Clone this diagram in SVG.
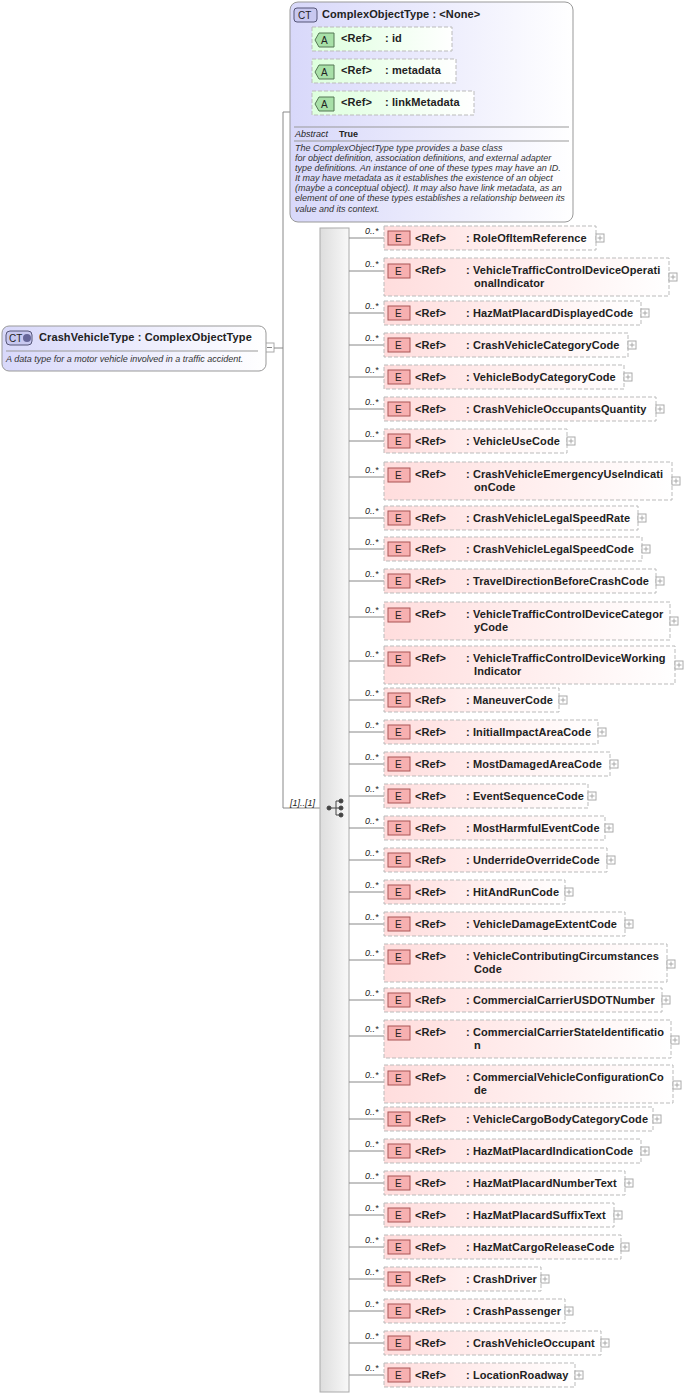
<svg xmlns="http://www.w3.org/2000/svg" width="685" height="1398" viewBox="0 0 685 1398">
<style>
text{font-family:"Liberation Sans",Arial,sans-serif;font-size:11px;fill:#222}
.b{font-weight:bold;letter-spacing:0.1px}
.s{font-size:10px;font-weight:normal}
.t{font-size:9px;font-weight:bold}
.i{font-style:italic;font-size:9px;fill:#333}
.m{font-style:italic;font-size:9px;fill:#222}
.el{fill:url(#ge);stroke:#bbb;stroke-dasharray:4,2}
.eb{fill:#f7b0b0;stroke:#a55}
.ln{stroke:#888;fill:none}
.px{fill:#fff;stroke:#aaa}
.at{fill:url(#ga);stroke:#bbb;stroke-dasharray:4,2}
</style>
<defs>
<linearGradient id="ge" x1="0" y1="0" x2="1" y2="0"><stop offset="0" stop-color="#fdd"/><stop offset="1" stop-color="#fff"/></linearGradient>
<linearGradient id="ga" x1="0" y1="0" x2="1" y2="0"><stop offset="0" stop-color="#dfd"/><stop offset="1" stop-color="#fff"/></linearGradient>
<linearGradient id="gc" x1="0" y1="0" x2="1" y2="0"><stop offset="0" stop-color="#d8d8fa"/><stop offset="1" stop-color="#fff"/></linearGradient>
<linearGradient id="gs" x1="0" y1="0" x2="1" y2="0"><stop offset="0" stop-color="#ddd"/><stop offset="1" stop-color="#f8f8f8"/></linearGradient>
</defs>
<g id="connectors">
<rect x="265" y="343" width="9" height="9" class="px"/><line x1="267" y1="347.5" x2="272" y2="347.5" stroke="#888"/>
<path class="ln" d="M274 348H283M283 112V808M283 112H300M300 40V112M300 40H314M300 71H314M300 103H314M283 808H320"/>
<text x="290" y="806" class="m">[1]..[1]</text>
</g>
<g id="CrashVehicleType">
<rect x="2" y="326" width="264" height="45" rx="7" fill="url(#gc)" stroke="#999"/>
<rect x="6" y="331" width="26" height="14" rx="4" fill="#c8c8f0" stroke="#557"/>
<text x="9" y="342" class="s">CT</text><circle cx="27" cy="338" r="4" fill="#669"/>
<text x="39" y="341" class="b">CrashVehicleType : ComplexObjectType</text>
<line x1="6" y1="351" x2="258" y2="351" stroke="#999"/>
<text x="6" y="362" class="i">A data type for a motor vehicle involved in a traffic accident.</text>
</g>
<g id="ComplexObjectType">
<rect x="290" y="2" width="283" height="220" rx="8" fill="url(#gc)" stroke="#999"/>
<rect x="294" y="8" width="23" height="14" rx="3" fill="#c8c8f0" stroke="#557"/>
<text x="298" y="19" class="s">CT</text>
<text x="322" y="18" class="b">ComplexObjectType : &lt;None&gt;</text>
<g><rect x="312" y="27" width="140" height="24" class="at"/><path d="M319 33h15v14h-15l-4 -7z" fill="#a8e0a8" stroke="#575"/><text x="321" y="44" class="s">A</text><text x="341" y="42" class="b">&lt;Ref&gt;</text><text x="385" y="42" class="b">: id</text></g>
<g><rect x="312" y="59" width="144" height="24" class="at"/><path d="M319 65h15v14h-15l-4 -7z" fill="#a8e0a8" stroke="#575"/><text x="321" y="76" class="s">A</text><text x="341" y="74" class="b">&lt;Ref&gt;</text><text x="385" y="74" class="b">: metadata</text></g>
<g><rect x="312" y="91" width="162" height="24" class="at"/><path d="M319 97h15v14h-15l-4 -7z" fill="#a8e0a8" stroke="#575"/><text x="321" y="108" class="s">A</text><text x="341" y="106" class="b">&lt;Ref&gt;</text><text x="385" y="106" class="b">: linkMetadata</text></g>
<line x1="294" y1="127" x2="569" y2="127" stroke="#999"/>
<text x="295" y="137" class="m">Abstract</text><text x="339" y="137" class="t">True</text>
<line x1="294" y1="141" x2="569" y2="141" stroke="#999"/>
<text class="i"><tspan x="295" y="151">The ComplexObjectType type provides a base class</tspan><tspan x="295" y="161">for object definition, association definitions, and external adapter</tspan><tspan x="295" y="171">type definitions. An instance of one of these types may have an ID.</tspan><tspan x="295" y="181">It may have metadata as it establishes the existence of an object</tspan><tspan x="295" y="191">(maybe a conceptual object). It may also have link metadata, as an</tspan><tspan x="295" y="201">element of one of these types establishes a relationship between its</tspan><tspan x="295" y="212">value and its context.</tspan></text>
</g>
<g id="sequence">
<rect x="320" y="228" width="29" height="1164" fill="url(#gs)" stroke="#aaa"/>
<g fill="#444" stroke="#444"><circle cx="329" cy="808" r="2"/><line x1="331" y1="808" x2="336" y2="808"/><path d="M336 801V815M336 801H340M336 808H340M336 815H340" fill="none"/><circle cx="341" cy="801" r="2"/><circle cx="341" cy="808" r="2"/><circle cx="341" cy="815" r="2"/></g>
</g>
<g id="elements">
<g id="e1"><line x1="349" y1="238" x2="384" y2="238" class="ln"/><text x="365" y="234" class="m">0..*</text><rect x="384" y="226" width="212" height="24" class="el"/><rect x="388" y="231" width="22" height="14" class="eb"/><text x="395" y="242" class="s">E</text><text x="415" y="242" class="b">&lt;Ref&gt;</text><text x="466" y="242" class="b">: RoleOfItemReference</text><rect x="596" y="234" width="8" height="8" class="px"/><path d="M600 235.5v5M597.5 238h5" stroke="#aaa"/></g>
<g id="e2"><line x1="349" y1="271" x2="384" y2="271" class="ln"/><text x="365" y="267" class="m">0..*</text><rect x="384" y="258" width="285" height="38" class="el"/><rect x="388" y="264" width="22" height="14" class="eb"/><text x="395" y="275" class="s">E</text><text x="415" y="274" class="b">&lt;Ref&gt;</text><text x="466" y="274" class="b">: VehicleTrafficControlDeviceOperati</text><text x="474" y="287" class="b">onalIndicator</text><rect x="669" y="273" width="8" height="8" class="px"/><path d="M673 274.5v5M670.5 277h5" stroke="#aaa"/></g>
<g id="e3"><line x1="349" y1="313" x2="384" y2="313" class="ln"/><text x="365" y="309" class="m">0..*</text><rect x="384" y="301" width="257" height="24" class="el"/><rect x="388" y="306" width="22" height="14" class="eb"/><text x="395" y="317" class="s">E</text><text x="415" y="317" class="b">&lt;Ref&gt;</text><text x="466" y="317" class="b">: HazMatPlacardDisplayedCode</text><rect x="641" y="309" width="8" height="8" class="px"/><path d="M645 310.5v5M642.5 313h5" stroke="#aaa"/></g>
<g id="e4"><line x1="349" y1="345" x2="384" y2="345" class="ln"/><text x="365" y="341" class="m">0..*</text><rect x="384" y="333" width="244" height="24" class="el"/><rect x="388" y="338" width="22" height="14" class="eb"/><text x="395" y="349" class="s">E</text><text x="415" y="349" class="b">&lt;Ref&gt;</text><text x="466" y="349" class="b">: CrashVehicleCategoryCode</text><rect x="628" y="341" width="8" height="8" class="px"/><path d="M632 342.5v5M629.5 345h5" stroke="#aaa"/></g>
<g id="e5"><line x1="349" y1="377" x2="384" y2="377" class="ln"/><text x="365" y="373" class="m">0..*</text><rect x="384" y="365" width="240" height="24" class="el"/><rect x="388" y="370" width="22" height="14" class="eb"/><text x="395" y="381" class="s">E</text><text x="415" y="381" class="b">&lt;Ref&gt;</text><text x="466" y="381" class="b">: VehicleBodyCategoryCode</text><rect x="624" y="373" width="8" height="8" class="px"/><path d="M628 374.5v5M625.5 377h5" stroke="#aaa"/></g>
<g id="e6"><line x1="349" y1="409" x2="384" y2="409" class="ln"/><text x="365" y="405" class="m">0..*</text><rect x="384" y="397" width="272" height="24" class="el"/><rect x="388" y="402" width="22" height="14" class="eb"/><text x="395" y="413" class="s">E</text><text x="415" y="413" class="b">&lt;Ref&gt;</text><text x="466" y="413" class="b">: CrashVehicleOccupantsQuantity</text><rect x="656" y="405" width="8" height="8" class="px"/><path d="M660 406.5v5M657.5 409h5" stroke="#aaa"/></g>
<g id="e7"><line x1="349" y1="441" x2="384" y2="441" class="ln"/><text x="365" y="437" class="m">0..*</text><rect x="384" y="429" width="183" height="24" class="el"/><rect x="388" y="434" width="22" height="14" class="eb"/><text x="395" y="445" class="s">E</text><text x="415" y="445" class="b">&lt;Ref&gt;</text><text x="466" y="445" class="b">: VehicleUseCode</text><rect x="567" y="437" width="8" height="8" class="px"/><path d="M571 438.5v5M568.5 441h5" stroke="#aaa"/></g>
<g id="e8"><line x1="349" y1="477" x2="384" y2="477" class="ln"/><text x="365" y="473" class="m">0..*</text><rect x="384" y="462" width="288" height="38" class="el"/><rect x="388" y="468" width="22" height="14" class="eb"/><text x="395" y="479" class="s">E</text><text x="415" y="478" class="b">&lt;Ref&gt;</text><text x="466" y="478" class="b">: CrashVehicleEmergencyUseIndicati</text><text x="474" y="491" class="b">onCode</text><rect x="672" y="477" width="8" height="8" class="px"/><path d="M676 478.5v5M673.5 481h5" stroke="#aaa"/></g>
<g id="e9"><line x1="349" y1="518" x2="384" y2="518" class="ln"/><text x="365" y="514" class="m">0..*</text><rect x="384" y="506" width="254" height="24" class="el"/><rect x="388" y="511" width="22" height="14" class="eb"/><text x="395" y="522" class="s">E</text><text x="415" y="522" class="b">&lt;Ref&gt;</text><text x="466" y="522" class="b">: CrashVehicleLegalSpeedRate</text><rect x="638" y="514" width="8" height="8" class="px"/><path d="M642 515.5v5M639.5 518h5" stroke="#aaa"/></g>
<g id="e10"><line x1="349" y1="549" x2="384" y2="549" class="ln"/><text x="365" y="545" class="m">0..*</text><rect x="384" y="537" width="258" height="24" class="el"/><rect x="388" y="542" width="22" height="14" class="eb"/><text x="395" y="553" class="s">E</text><text x="415" y="553" class="b">&lt;Ref&gt;</text><text x="466" y="553" class="b">: CrashVehicleLegalSpeedCode</text><rect x="642" y="545" width="8" height="8" class="px"/><path d="M646 546.5v5M643.5 549h5" stroke="#aaa"/></g>
<g id="e11"><line x1="349" y1="581" x2="384" y2="581" class="ln"/><text x="365" y="577" class="m">0..*</text><rect x="384" y="569" width="272" height="24" class="el"/><rect x="388" y="574" width="22" height="14" class="eb"/><text x="395" y="585" class="s">E</text><text x="415" y="585" class="b">&lt;Ref&gt;</text><text x="466" y="585" class="b">: TravelDirectionBeforeCrashCode</text><rect x="656" y="577" width="8" height="8" class="px"/><path d="M660 578.5v5M657.5 581h5" stroke="#aaa"/></g>
<g id="e12"><line x1="349" y1="617" x2="384" y2="617" class="ln"/><text x="365" y="613" class="m">0..*</text><rect x="384" y="602" width="286" height="38" class="el"/><rect x="388" y="608" width="22" height="14" class="eb"/><text x="395" y="619" class="s">E</text><text x="415" y="618" class="b">&lt;Ref&gt;</text><text x="466" y="618" class="b">: VehicleTrafficControlDeviceCategor</text><text x="474" y="631" class="b">yCode</text><rect x="670" y="617" width="8" height="8" class="px"/><path d="M674 618.5v5M671.5 621h5" stroke="#aaa"/></g>
<g id="e13"><line x1="349" y1="661" x2="384" y2="661" class="ln"/><text x="365" y="657" class="m">0..*</text><rect x="384" y="646" width="291" height="38" class="el"/><rect x="388" y="652" width="22" height="14" class="eb"/><text x="395" y="663" class="s">E</text><text x="415" y="662" class="b">&lt;Ref&gt;</text><text x="466" y="662" class="b">: VehicleTrafficControlDeviceWorking</text><text x="474" y="675" class="b">Indicator</text><rect x="675" y="661" width="8" height="8" class="px"/><path d="M679 662.5v5M676.5 665h5" stroke="#aaa"/></g>
<g id="e14"><line x1="349" y1="700" x2="384" y2="700" class="ln"/><text x="365" y="696" class="m">0..*</text><rect x="384" y="688" width="175" height="24" class="el"/><rect x="388" y="693" width="22" height="14" class="eb"/><text x="395" y="704" class="s">E</text><text x="415" y="704" class="b">&lt;Ref&gt;</text><text x="466" y="704" class="b">: ManeuverCode</text><rect x="559" y="696" width="8" height="8" class="px"/><path d="M563 697.5v5M560.5 700h5" stroke="#aaa"/></g>
<g id="e15"><line x1="349" y1="732" x2="384" y2="732" class="ln"/><text x="365" y="728" class="m">0..*</text><rect x="384" y="720" width="214" height="24" class="el"/><rect x="388" y="725" width="22" height="14" class="eb"/><text x="395" y="736" class="s">E</text><text x="415" y="736" class="b">&lt;Ref&gt;</text><text x="466" y="736" class="b">: InitialImpactAreaCode</text><rect x="598" y="728" width="8" height="8" class="px"/><path d="M602 729.5v5M599.5 732h5" stroke="#aaa"/></g>
<g id="e16"><line x1="349" y1="764" x2="384" y2="764" class="ln"/><text x="365" y="760" class="m">0..*</text><rect x="384" y="752" width="226" height="24" class="el"/><rect x="388" y="757" width="22" height="14" class="eb"/><text x="395" y="768" class="s">E</text><text x="415" y="768" class="b">&lt;Ref&gt;</text><text x="466" y="768" class="b">: MostDamagedAreaCode</text><rect x="610" y="760" width="8" height="8" class="px"/><path d="M614 761.5v5M611.5 764h5" stroke="#aaa"/></g>
<g id="e17"><line x1="349" y1="796" x2="384" y2="796" class="ln"/><text x="365" y="792" class="m">0..*</text><rect x="384" y="784" width="204" height="24" class="el"/><rect x="388" y="789" width="22" height="14" class="eb"/><text x="395" y="800" class="s">E</text><text x="415" y="800" class="b">&lt;Ref&gt;</text><text x="466" y="800" class="b">: EventSequenceCode</text><rect x="588" y="792" width="8" height="8" class="px"/><path d="M592 793.5v5M589.5 796h5" stroke="#aaa"/></g>
<g id="e18"><line x1="349" y1="828" x2="384" y2="828" class="ln"/><text x="365" y="824" class="m">0..*</text><rect x="384" y="816" width="221" height="24" class="el"/><rect x="388" y="821" width="22" height="14" class="eb"/><text x="395" y="832" class="s">E</text><text x="415" y="832" class="b">&lt;Ref&gt;</text><text x="466" y="832" class="b">: MostHarmfulEventCode</text><rect x="605" y="824" width="8" height="8" class="px"/><path d="M609 825.5v5M606.5 828h5" stroke="#aaa"/></g>
<g id="e19"><line x1="349" y1="860" x2="384" y2="860" class="ln"/><text x="365" y="856" class="m">0..*</text><rect x="384" y="848" width="223" height="24" class="el"/><rect x="388" y="853" width="22" height="14" class="eb"/><text x="395" y="864" class="s">E</text><text x="415" y="864" class="b">&lt;Ref&gt;</text><text x="466" y="864" class="b">: UnderrideOverrideCode</text><rect x="607" y="856" width="8" height="8" class="px"/><path d="M611 857.5v5M608.5 860h5" stroke="#aaa"/></g>
<g id="e20"><line x1="349" y1="892" x2="384" y2="892" class="ln"/><text x="365" y="888" class="m">0..*</text><rect x="384" y="880" width="181" height="24" class="el"/><rect x="388" y="885" width="22" height="14" class="eb"/><text x="395" y="896" class="s">E</text><text x="415" y="896" class="b">&lt;Ref&gt;</text><text x="466" y="896" class="b">: HitAndRunCode</text><rect x="565" y="888" width="8" height="8" class="px"/><path d="M569 889.5v5M566.5 892h5" stroke="#aaa"/></g>
<g id="e21"><line x1="349" y1="924" x2="384" y2="924" class="ln"/><text x="365" y="920" class="m">0..*</text><rect x="384" y="912" width="241" height="24" class="el"/><rect x="388" y="917" width="22" height="14" class="eb"/><text x="395" y="928" class="s">E</text><text x="415" y="928" class="b">&lt;Ref&gt;</text><text x="466" y="928" class="b">: VehicleDamageExtentCode</text><rect x="625" y="920" width="8" height="8" class="px"/><path d="M629 921.5v5M626.5 924h5" stroke="#aaa"/></g>
<g id="e22"><line x1="349" y1="960" x2="384" y2="960" class="ln"/><text x="365" y="956" class="m">0..*</text><rect x="384" y="944" width="283" height="38" class="el"/><rect x="388" y="950" width="22" height="14" class="eb"/><text x="395" y="961" class="s">E</text><text x="415" y="960" class="b">&lt;Ref&gt;</text><text x="466" y="960" class="b">: VehicleContributingCircumstances</text><text x="474" y="973" class="b">Code</text><rect x="667" y="960" width="8" height="8" class="px"/><path d="M671 961.5v5M668.5 964h5" stroke="#aaa"/></g>
<g id="e23"><line x1="349" y1="1000" x2="384" y2="1000" class="ln"/><text x="365" y="996" class="m">0..*</text><rect x="384" y="988" width="278" height="24" class="el"/><rect x="388" y="993" width="22" height="14" class="eb"/><text x="395" y="1004" class="s">E</text><text x="415" y="1004" class="b">&lt;Ref&gt;</text><text x="466" y="1004" class="b">: CommercialCarrierUSDOTNumber</text><rect x="662" y="996" width="8" height="8" class="px"/><path d="M666 997.5v5M663.5 1000h5" stroke="#aaa"/></g>
<g id="e24"><line x1="349" y1="1036" x2="384" y2="1036" class="ln"/><text x="365" y="1032" class="m">0..*</text><rect x="384" y="1020" width="287" height="38" class="el"/><rect x="388" y="1026" width="22" height="14" class="eb"/><text x="395" y="1037" class="s">E</text><text x="415" y="1036" class="b">&lt;Ref&gt;</text><text x="466" y="1036" class="b">: CommercialCarrierStateIdentificatio</text><text x="474" y="1049" class="b">n</text><rect x="671" y="1036" width="8" height="8" class="px"/><path d="M675 1037.5v5M672.5 1040h5" stroke="#aaa"/></g>
<g id="e25"><line x1="349" y1="1082" x2="384" y2="1082" class="ln"/><text x="365" y="1078" class="m">0..*</text><rect x="384" y="1065" width="289" height="38" class="el"/><rect x="388" y="1071" width="22" height="14" class="eb"/><text x="395" y="1082" class="s">E</text><text x="415" y="1081" class="b">&lt;Ref&gt;</text><text x="466" y="1081" class="b">: CommercialVehicleConfigurationCo</text><text x="474" y="1094" class="b">de</text><rect x="673" y="1081" width="8" height="8" class="px"/><path d="M677 1082.5v5M674.5 1085h5" stroke="#aaa"/></g>
<g id="e26"><line x1="349" y1="1119" x2="384" y2="1119" class="ln"/><text x="365" y="1115" class="m">0..*</text><rect x="384" y="1107" width="269" height="24" class="el"/><rect x="388" y="1112" width="22" height="14" class="eb"/><text x="395" y="1123" class="s">E</text><text x="415" y="1123" class="b">&lt;Ref&gt;</text><text x="466" y="1123" class="b">: VehicleCargoBodyCategoryCode</text><rect x="653" y="1115" width="8" height="8" class="px"/><path d="M657 1116.5v5M654.5 1119h5" stroke="#aaa"/></g>
<g id="e27"><line x1="349" y1="1151" x2="384" y2="1151" class="ln"/><text x="365" y="1147" class="m">0..*</text><rect x="384" y="1139" width="257" height="24" class="el"/><rect x="388" y="1144" width="22" height="14" class="eb"/><text x="395" y="1155" class="s">E</text><text x="415" y="1155" class="b">&lt;Ref&gt;</text><text x="466" y="1155" class="b">: HazMatPlacardIndicationCode</text><rect x="641" y="1147" width="8" height="8" class="px"/><path d="M645 1148.5v5M642.5 1151h5" stroke="#aaa"/></g>
<g id="e28"><line x1="349" y1="1183" x2="384" y2="1183" class="ln"/><text x="365" y="1179" class="m">0..*</text><rect x="384" y="1171" width="241" height="24" class="el"/><rect x="388" y="1176" width="22" height="14" class="eb"/><text x="395" y="1187" class="s">E</text><text x="415" y="1187" class="b">&lt;Ref&gt;</text><text x="466" y="1187" class="b">: HazMatPlacardNumberText</text><rect x="625" y="1179" width="8" height="8" class="px"/><path d="M629 1180.5v5M626.5 1183h5" stroke="#aaa"/></g>
<g id="e29"><line x1="349" y1="1215" x2="384" y2="1215" class="ln"/><text x="365" y="1211" class="m">0..*</text><rect x="384" y="1203" width="230" height="24" class="el"/><rect x="388" y="1208" width="22" height="14" class="eb"/><text x="395" y="1219" class="s">E</text><text x="415" y="1219" class="b">&lt;Ref&gt;</text><text x="466" y="1219" class="b">: HazMatPlacardSuffixText</text><rect x="614" y="1211" width="8" height="8" class="px"/><path d="M618 1212.5v5M615.5 1215h5" stroke="#aaa"/></g>
<g id="e30"><line x1="349" y1="1247" x2="384" y2="1247" class="ln"/><text x="365" y="1243" class="m">0..*</text><rect x="384" y="1235" width="237" height="24" class="el"/><rect x="388" y="1240" width="22" height="14" class="eb"/><text x="395" y="1251" class="s">E</text><text x="415" y="1251" class="b">&lt;Ref&gt;</text><text x="466" y="1251" class="b">: HazMatCargoReleaseCode</text><rect x="621" y="1243" width="8" height="8" class="px"/><path d="M625 1244.5v5M622.5 1247h5" stroke="#aaa"/></g>
<g id="e31"><line x1="349" y1="1279" x2="384" y2="1279" class="ln"/><text x="365" y="1275" class="m">0..*</text><rect x="384" y="1267" width="157" height="24" class="el"/><rect x="388" y="1272" width="22" height="14" class="eb"/><text x="395" y="1283" class="s">E</text><text x="415" y="1283" class="b">&lt;Ref&gt;</text><text x="466" y="1283" class="b">: CrashDriver</text><rect x="541" y="1275" width="8" height="8" class="px"/><path d="M545 1276.5v5M542.5 1279h5" stroke="#aaa"/></g>
<g id="e32"><line x1="349" y1="1311" x2="384" y2="1311" class="ln"/><text x="365" y="1307" class="m">0..*</text><rect x="384" y="1299" width="181" height="24" class="el"/><rect x="388" y="1304" width="22" height="14" class="eb"/><text x="395" y="1315" class="s">E</text><text x="415" y="1315" class="b">&lt;Ref&gt;</text><text x="466" y="1315" class="b">: CrashPassenger</text><rect x="565" y="1307" width="8" height="8" class="px"/><path d="M569 1308.5v5M566.5 1311h5" stroke="#aaa"/></g>
<g id="e33"><line x1="349" y1="1343" x2="384" y2="1343" class="ln"/><text x="365" y="1339" class="m">0..*</text><rect x="384" y="1331" width="217" height="24" class="el"/><rect x="388" y="1336" width="22" height="14" class="eb"/><text x="395" y="1347" class="s">E</text><text x="415" y="1347" class="b">&lt;Ref&gt;</text><text x="466" y="1347" class="b">: CrashVehicleOccupant</text><rect x="601" y="1339" width="8" height="8" class="px"/><path d="M605 1340.5v5M602.5 1343h5" stroke="#aaa"/></g>
<g id="e34"><line x1="349" y1="1375" x2="384" y2="1375" class="ln"/><text x="365" y="1371" class="m">0..*</text><rect x="384" y="1363" width="191" height="24" class="el"/><rect x="388" y="1368" width="22" height="14" class="eb"/><text x="395" y="1379" class="s">E</text><text x="415" y="1379" class="b">&lt;Ref&gt;</text><text x="466" y="1379" class="b">: LocationRoadway</text><rect x="575" y="1371" width="8" height="8" class="px"/><path d="M579 1372.5v5M576.5 1375h5" stroke="#aaa"/></g>
</g>
</svg>
